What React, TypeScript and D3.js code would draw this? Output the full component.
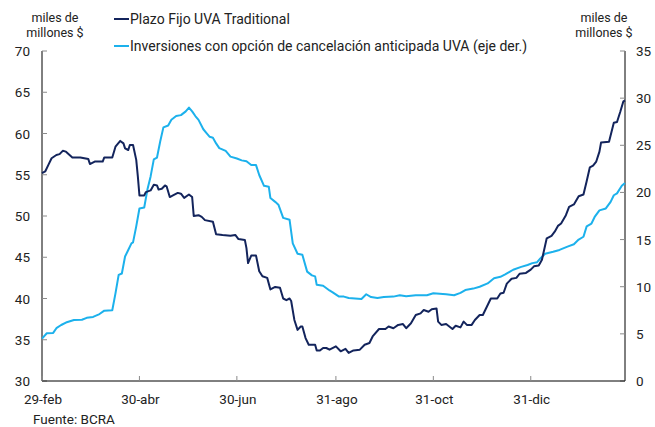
import React from "react";
import * as d3 from "d3";

const plazoDates = [
  "2024-02-29","2024-03-02","2024-03-04","2024-03-06","2024-03-09","2024-03-11","2024-03-13","2024-03-15","2024-03-19","2024-03-24",
  "2024-03-29","2024-03-30","2024-04-02","2024-04-07","2024-04-08","2024-04-13","2024-04-15","2024-04-18","2024-04-20","2024-04-21",
  "2024-04-23","2024-04-24","2024-04-26","2024-04-28","2024-04-29","2024-04-30","2024-05-03","2024-05-04","2024-05-07","2024-05-09",
  "2024-05-11","2024-05-12","2024-05-14","2024-05-16","2024-05-17","2024-05-19","2024-05-21","2024-05-24","2024-05-26","2024-05-28",
  "2024-05-31","2024-06-02","2024-06-03","2024-06-06","2024-06-08","2024-06-10","2024-06-15","2024-06-17","2024-06-21","2024-06-26",
  "2024-06-29","2024-07-01","2024-07-05","2024-07-06","2024-07-07","2024-07-09","2024-07-12","2024-07-14","2024-07-16","2024-07-19",
  "2024-07-21","2024-07-24","2024-07-27","2024-07-29","2024-07-31","2024-08-02","2024-08-03","2024-08-05","2024-08-07","2024-08-09",
  "2024-08-10","2024-08-12","2024-08-14","2024-08-18","2024-08-19","2024-08-21","2024-08-23","2024-08-25","2024-08-27","2024-08-31",
  "2024-09-03","2024-09-06","2024-09-08","2024-09-11","2024-09-15","2024-09-18","2024-09-21","2024-09-23","2024-09-27","2024-10-01",
  "2024-10-03","2024-10-06","2024-10-09","2024-10-12","2024-10-14","2024-10-17","2024-10-20","2024-10-23","2024-10-25","2024-10-28",
  "2024-10-30","2024-11-02","2024-11-03","2024-11-05","2024-11-08","2024-11-12","2024-11-14","2024-11-17","2024-11-19","2024-11-21",
  "2024-11-24","2024-11-26","2024-11-29","2024-12-01","2024-12-06","2024-12-10","2024-12-12","2024-12-14","2024-12-16","2024-12-19",
  "2024-12-22","2024-12-24","2024-12-28","2024-12-31","2025-01-02","2025-01-05","2025-01-07","2025-01-10","2025-01-13","2025-01-15",
  "2025-01-17","2025-01-19","2025-01-22","2025-01-24","2025-01-27","2025-01-30","2025-02-02","2025-02-04","2025-02-06","2025-02-08",
  "2025-02-10","2025-02-12","2025-02-13","2025-02-18","2025-02-21","2025-02-23","2025-02-25","2025-02-27","2025-02-28"
];
const plazoValues = [
  55.2,55.4,56.2,57.0,57.4,57.5,57.9,57.8,57.1,57.1,
  56.9,56.3,56.6,56.6,57.1,57.1,58.4,59.1,58.8,58.2,
  58.0,58.6,58.6,56.8,54.8,52.5,52.5,52.9,53.1,53.8,
  53.7,53.2,53.3,53.7,53.6,52.3,52.5,52.8,52.7,52.2,
  52.6,52.3,50.0,50.1,49.9,49.5,49.3,47.8,47.7,47.6,
  47.7,47.2,47.1,46.1,44.3,45.2,45.2,43.3,42.7,42.5,
  41.1,41.4,41.3,40.0,39.8,40.0,39.7,37.4,36.2,36.6,
  36.6,35.2,34.4,34.4,33.7,33.7,34.0,34.0,33.8,34.2,
  33.6,33.9,33.4,33.7,33.8,34.4,34.6,35.4,36.3,36.3,
  36.6,36.4,36.8,36.9,36.4,37.0,38.0,38.2,38.6,38.4,
  38.7,38.8,37.2,36.8,36.9,36.3,36.7,36.5,37.2,36.8,
  36.8,37.4,38.0,38.0,40.0,40.0,40.6,40.7,41.8,42.4,
  42.5,43.0,43.1,43.5,43.9,44.0,44.7,47.3,47.6,48.1,
  48.8,49.1,50.1,51.1,51.4,52.4,52.6,54.2,55.9,56.1,
  56.6,57.8,58.9,59.0,61.3,61.4,62.6,63.9,64.0
];

const invDates = [
  "2024-02-29","2024-03-03","2024-03-07","2024-03-09","2024-03-12","2024-03-15","2024-03-20","2024-03-25","2024-03-28","2024-04-01",
  "2024-04-05","2024-04-08","2024-04-13","2024-04-15","2024-04-17","2024-04-19","2024-04-21","2024-04-23","2024-04-25","2024-04-26",
  "2024-04-28","2024-04-30","2024-05-03","2024-05-05","2024-05-07","2024-05-09","2024-05-11","2024-05-13","2024-05-15","2024-05-18",
  "2024-05-20","2024-05-23","2024-05-26","2024-05-29","2024-05-31","2024-06-02","2024-06-04","2024-06-06","2024-06-09","2024-06-11",
  "2024-06-13","2024-06-15","2024-06-17","2024-06-19","2024-06-23","2024-06-26","2024-06-30","2024-07-03","2024-07-06","2024-07-09",
  "2024-07-12","2024-07-14","2024-07-17","2024-07-20","2024-07-21","2024-07-24","2024-07-26","2024-07-29","2024-08-02","2024-08-04",
  "2024-08-07","2024-08-10","2024-08-13","2024-08-16","2024-08-18","2024-08-19","2024-08-23","2024-08-27","2024-08-29","2024-09-02",
  "2024-09-05","2024-09-08","2024-09-12","2024-09-16","2024-09-19","2024-09-22","2024-09-26","2024-09-30","2024-10-06","2024-10-10",
  "2024-10-14","2024-10-20","2024-10-27","2024-10-31","2024-11-08","2024-11-13","2024-11-17","2024-11-20","2024-11-25","2024-11-29",
  "2024-12-04","2024-12-08","2024-12-12","2024-12-15","2024-12-18","2024-12-20","2024-12-25","2024-12-29","2025-01-01","2025-01-04",
  "2025-01-06","2025-01-09","2025-01-14","2025-01-18","2025-01-23","2025-01-27","2025-01-30","2025-02-02","2025-02-04","2025-02-07",
  "2025-02-09","2025-02-12","2025-02-16","2025-02-19","2025-02-21","2025-02-23","2025-02-26","2025-02-28"
];
const invValues = [
  4.5,5.06,5.1,5.6,5.94,6.2,6.47,6.5,6.7,6.8,
  7.1,7.46,7.5,9.3,11.25,11.4,13.2,13.9,14.6,14.7,
  16.4,18.3,18.4,20.3,21.7,23.5,23.7,25.4,26.9,27.1,
  27.7,28.1,28.2,28.6,29.0,28.6,28.1,27.7,26.7,26.3,
  25.9,25.8,25.2,24.7,24.4,23.8,23.6,23.4,23.3,22.9,
  22.9,21.85,20.7,20.6,19.4,19.0,18.7,17.3,17.1,14.6,
  13.5,13.4,11.6,11.2,11.1,10.2,10.1,9.6,9.4,8.95,
  8.95,8.8,8.75,8.7,9.2,8.9,8.8,8.9,8.95,9.1,
  9.0,9.1,9.1,9.3,9.2,9.1,9.35,9.65,9.8,10.0,
  10.35,10.9,11.05,11.3,11.6,11.8,12.1,12.3,12.5,12.6,
  13.0,13.5,13.7,13.9,14.25,14.5,15.0,15.3,16.4,16.7,
  17.4,18.1,18.3,19.0,19.7,19.9,20.7,21.0
];

const xTickDates = ["2024-02-29","2024-04-30","2024-06-30","2024-08-31","2024-10-31","2024-12-31"];
const xTickLabels = ["29-feb","30-abr","30-jun","31-ago","31-oct","31-dic"];
const leftTicks = [30,35,40,45,50,55,60,65,70];
const rightTicks = [0,5,10,15,20,25,30,35];
const seriesNames = ["Plazo Fijo UVA Traditional","Inversiones con opción de cancelación anticipada UVA (eje der.)"];
const unitLines = ["miles de","millones $"];
const sourceText = "Fuente: BCRA";

const DARK = "#13245c";
const LIGHT = "#1cb1ec";
const FONT = "Roboto, 'Noto Sans', sans-serif";

export default function App() {
  const W = 655, H = 427;
  const left = 42, right = 625, top = 51, bottom = 381;
  const parse = d3.timeParse("%Y-%m-%d");
  const x = d3.scaleTime().domain([parse("2024-02-29")!, parse("2025-02-28")!]).range([left, right]);
  const yL = d3.scaleLinear().domain([30, 70]).range([bottom, top]);
  const yR = d3.scaleLinear().domain([0, 35]).range([bottom, top]);

  const plazo = plazoDates.map((d, i) => ({ d: parse(d)!, v: plazoValues[i] }));
  const inv = invDates.map((d, i) => ({ d: parse(d)!, v: invValues[i] }));
  const lineL = d3.line<{ d: Date; v: number }>().x(p => x(p.d)).y(p => yL(p.v));
  const lineR = d3.line<{ d: Date; v: number }>().x(p => x(p.d)).y(p => yR(p.v));

  const txt = "#222";
  const tickCol = "#8a8a8a";

  return (
    <svg width={W} height={H} style={{ position: "absolute", left: 0, top: 0, background: "#fff" }} fontFamily={FONT}>
      {unitLines.map((t, i) => (
        <text key={"ul" + i} x={55} y={22 + i * 15} fontSize={12.5} textAnchor="middle" fill={txt}>{t}</text>
      ))}
      {unitLines.map((t, i) => (
        <text key={"ur" + i} x={604} y={22 + i * 15} fontSize={12.5} textAnchor="middle" fill={txt}>{t}</text>
      ))}
      {seriesNames.map((t, i) => (
        <g key={"lg" + i}>
          <line x1={114} x2={129} y1={19 + i * 27} y2={19 + i * 27} stroke={i === 0 ? DARK : LIGHT} strokeWidth={2} />
          <text x={130} y={24 + i * 27} fontSize={14} fill={txt}>{t}</text>
        </g>
      ))}
      <line x1={left} x2={left} y1={top} y2={bottom} stroke="#000" strokeWidth={1} />
      {leftTicks.map(t => (
        <g key={"lt" + t}>
          <line x1={left} x2={left + 5} y1={yL(t)} y2={yL(t)} stroke={tickCol} />
          <text x={30} y={yL(t) + 5} fontSize={13.5} textAnchor="end" fill={txt}>{t}</text>
        </g>
      ))}
      <line x1={right} x2={right} y1={top} y2={bottom} stroke="#000" strokeWidth={1} />
      {rightTicks.map(t => (
        <g key={"rt" + t}>
          <line x1={right - 5} x2={right} y1={yR(t)} y2={yR(t)} stroke={tickCol} />
          <text x={636} y={yR(t) + 5} fontSize={13.5} textAnchor="start" fill={txt}>{t}</text>
        </g>
      ))}
      <line x1={left} x2={right} y1={bottom} y2={bottom} stroke="#000" strokeWidth={1} />
      {xTickDates.map((d, i) => (
        <g key={"xt" + i}>
          <line x1={x(parse(d)!)} x2={x(parse(d)!)} y1={bottom} y2={bottom - 5} stroke={tickCol} />
          <text x={x(parse(d)!) + 1} y={404} fontSize={13.5} textAnchor="middle" fill={txt}>{xTickLabels[i]}</text>
        </g>
      ))}
      <path d={lineR(inv) || ""} fill="none" stroke={LIGHT} strokeWidth={2} strokeLinejoin="round" />
      <path d={lineL(plazo) || ""} fill="none" stroke={DARK} strokeWidth={2} strokeLinejoin="round" />
      <text x={33} y={424} fontSize={13.5} fill={txt}>{sourceText}</text>
    </svg>
  );
}
